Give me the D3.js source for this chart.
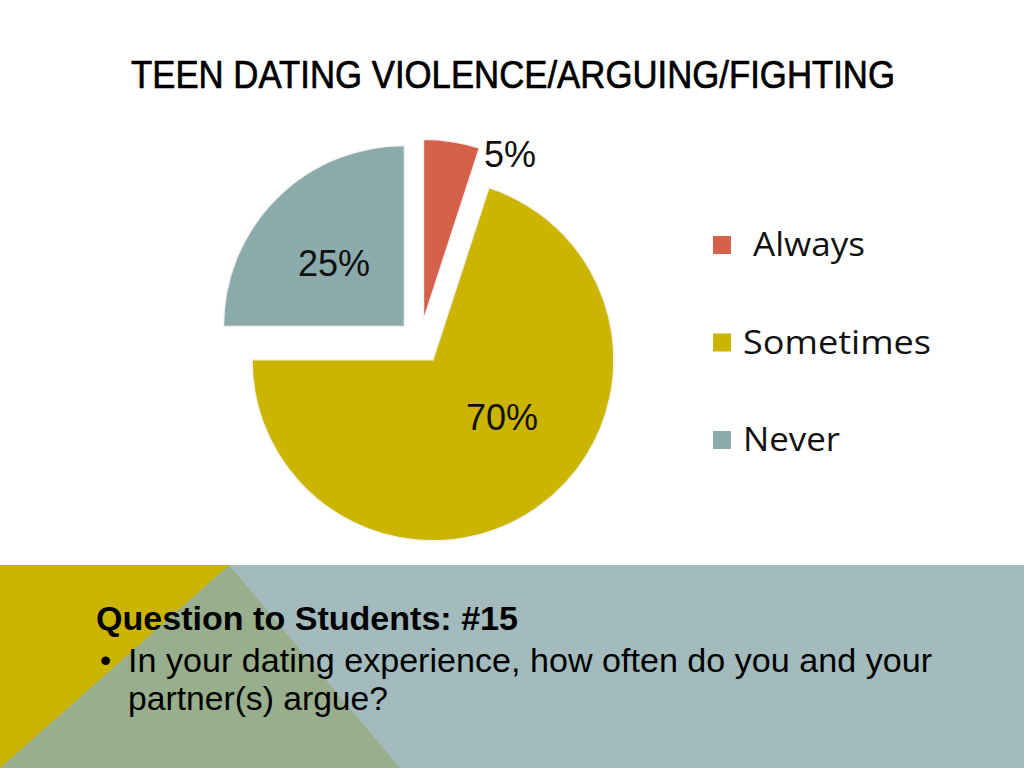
<!DOCTYPE html>
<html lang="en">
<head>
    <meta charset="UTF-8">
    <title>Teen Dating Violence</title>
    <script src="https://d3js.org/d3.v7.min.js"></script>
    <style>
        body { margin: 0; background: #fff; }
        svg { display: block; }
        .title { font-family: "Liberation Sans", Arial, sans-serif; font-size: 39px; fill: #000; stroke: #000; stroke-width: 0.7px; }
        .pct { font-family: "Liberation Sans", Arial, sans-serif; font-size: 36px; fill: #111; }
        .legend text { font-family: "Open Sans", "Liberation Sans", sans-serif; font-size: 33px; fill: #111; }
        .question { font-family: "Liberation Sans", Arial, sans-serif; fill: #000; }
    </style>
</head>
<body>
<script>
    const width = 1024, height = 768;

    // data
    const categories = ['Always', 'Sometimes', 'Never'];
    const values = [5, 70, 25];
    const labels = ['5%', '70%', '25%'];
    const colors = ['#D5614B', '#CCB500', '#8BABAA'];

    const titleText = 'TEEN DATING VIOLENCE/ARGUING/FIGHTING';
    const questionHead = 'Question to Students: #15';
    const questionLines = ['In your dating experience, how often do you and your', 'partner(s) argue?'];

    const svg = d3.select('body').append('svg')
        .attr('width', width)
        .attr('height', height);

    // title
    svg.append('text')
        .attr('class', 'title')
        .attr('x', 131)
        .attr('y', 88)
        .attr('textLength', 764)
        .attr('lengthAdjust', 'spacingAndGlyphs')
        .text(titleText);

    // pie
    const radius = 181;
    const explode = 22;
    const pieG = svg.append('g').attr('transform', 'translate(420,342)');

    const pie = d3.pie().sort(null).value(d => d.value);
    const arc = d3.arc().innerRadius(0).outerRadius(radius);
    const arcs = pie(categories.map((c, i) => ({ cat: c, value: values[i], label: labels[i], color: colors[i] })));

    const offset = d => {
        const a = (d.startAngle + d.endAngle) / 2;
        return [Math.sin(a) * explode, -Math.cos(a) * explode];
    };

    pieG.selectAll('path')
        .data(arcs)
        .enter().append('path')
        .attr('transform', d => `translate(${offset(d)})`)
        .attr('d', arc)
        .attr('fill', d => d.data.color)
        .attr('stroke', '#f2f2f2')
        .attr('stroke-width', 1.5);

    // slice labels
    const labelPos = {
        'Always': [90, -187],
        'Sometimes': [82, 76],
        'Never': [-86, -78]
    };
    pieG.selectAll('text.pct')
        .data(arcs)
        .enter().append('text')
        .attr('class', 'pct')
        .attr('text-anchor', 'middle')
        .attr('x', d => labelPos[d.data.cat][0])
        .attr('y', d => labelPos[d.data.cat][1] + 12)
        .text(d => d.data.label);

    // legend
    const legendY = d3.scalePoint().domain(categories).range([245, 440]);
    const legendW = { 'Always': 112, 'Sometimes': 188, 'Never': 97 };
    const legend = svg.append('g').attr('class', 'legend');
    const item = legend.selectAll('g')
        .data(categories)
        .enter().append('g')
        .attr('transform', d => `translate(713,${legendY(d)})`);
    item.append('rect')
        .attr('x', 0).attr('y', -9)
        .attr('width', 18).attr('height', 18)
        .attr('fill', (d, i) => colors[i]);
    item.append('text')
        .attr('x', (d, i) => i === 0 ? 40 : 30)
        .attr('y', 11)
        .attr('textLength', d => legendW[d])
        .attr('lengthAdjust', 'spacingAndGlyphs')
        .text(d => d);

    // bottom panel
    const panelTop = 565;
    svg.append('rect')
        .attr('x', 0).attr('y', panelTop)
        .attr('width', width).attr('height', height - panelTop)
        .attr('fill', '#A3BBBD');
    svg.append('path')
        .attr('d', `M229,${panelTop}L400,${height}L0,${height}Z`)
        .attr('fill', '#98AE8C');
    svg.append('path')
        .attr('d', `M0,${panelTop}L229,${panelTop}L0,${height}Z`)
        .attr('fill', '#CCB500');

    svg.append('text')
        .attr('class', 'question')
        .attr('x', 96)
        .attr('y', 630)
        .attr('font-size', 33)
        .attr('font-weight', 'bold')
        .attr('textLength', 422)
        .attr('lengthAdjust', 'spacingAndGlyphs')
        .text(questionHead);

    svg.append('text')
        .attr('class', 'question')
        .attr('x', 100)
        .attr('y', 671)
        .attr('font-size', 32)
        .text('•');

    svg.selectAll('text.line')
        .data(questionLines)
        .enter().append('text')
        .attr('class', 'question line')
        .attr('x', 128)
        .attr('y', (d, i) => 672 + i * 38)
        .attr('font-size', 34)
        .attr('textLength', (d, i) => i === 0 ? 804 : 260)
        .attr('lengthAdjust', 'spacingAndGlyphs')
        .text(d => d);
</script>
</body>
</html>
